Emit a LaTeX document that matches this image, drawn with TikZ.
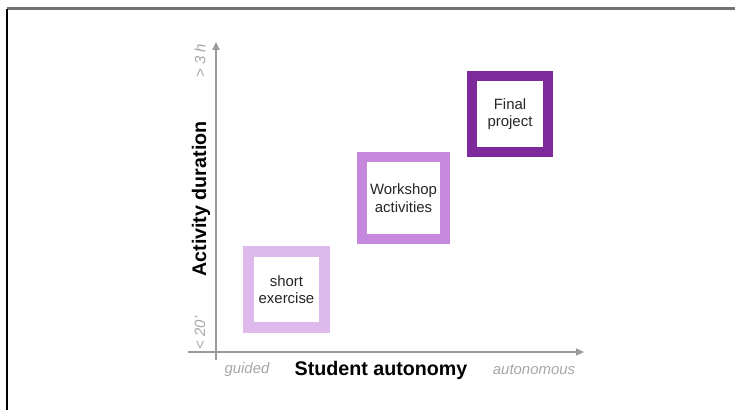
\documentclass[tikz,border=0pt]{standalone}
\usepackage{fontspec}
\setmainfont{Liberation Sans}
\usetikzlibrary{arrows.meta, positioning}

\definecolor{lilacLight}{HTML}{DEB9EB}
\definecolor{lilacMid}{HTML}{C688DD}
\definecolor{lilacDark}{HTML}{7C2A9C}
\definecolor{axisgray}{HTML}{9A9A9A}

\begin{document}
\begin{tikzpicture}[
    x=0.02cm, y=-0.02cm,
    axis/.style={-{Triangle[length=4.5pt, width=4pt]}, axisgray, line width=0.85pt},
    level/.style={rectangle, draw, fill=white, line width=0.2cm, minimum size=1.55cm, inner sep=0pt, align=center, font=\fontsize{8.5}{10}\selectfont, text=black!85},
    title/.style={font=\bfseries\fontsize{11.2}{13}\selectfont, text=black},
    hint/.style={font=\itshape\fontsize{8.5}{10}\selectfont, text=black!35}
]
\useasboundingbox (0,0) rectangle (735,410);

% =====================
% Frame
% =====================
\draw[black!55, line width=1.2pt] (7,8.5) -- (735,8.5);
\draw[black, line width=0.6pt] (7,8.5) -- (7,410);

% =====================
% Axes
% =====================
\coordinate (origin) at (216,352);
\coordinate (ytip) at (216,42);
\coordinate (xtip) at (584,352);
\coordinate (ybase) at (216,360);
\coordinate (xbase) at (188,352);

\draw[axis] (ybase) -- (ytip);
\draw[axis] (xbase) -- (xtip);

\node[title] (xtitle) at (381,370) {Student autonomy};
\node[hint] (xlow) at (247,370) {guided};
\node[hint] (xhigh) at (534,370) {autonomous};

\node[title, rotate=90] (ytitle) at (201,199) {Activity duration};
\node[hint, rotate=90] (ylow) at (200,333) {< 20'};
\node[hint, rotate=90] (yhigh) at (200,61) {> 3 h};

% =====================
% Activities
% =====================
\node[level, draw=lilacLight, line width=0.22cm, minimum size=1.52cm] (short) at (286.5,289.5) {short\\exercise};
\node[level, draw=lilacMid, minimum size=1.66cm] (workshop) at (403.5,198) {Workshop\\activities};
\node[level, draw=lilacDark, minimum size=1.54cm] (final) at (510,114) {Final\\project};

\end{tikzpicture}
\end{document}
